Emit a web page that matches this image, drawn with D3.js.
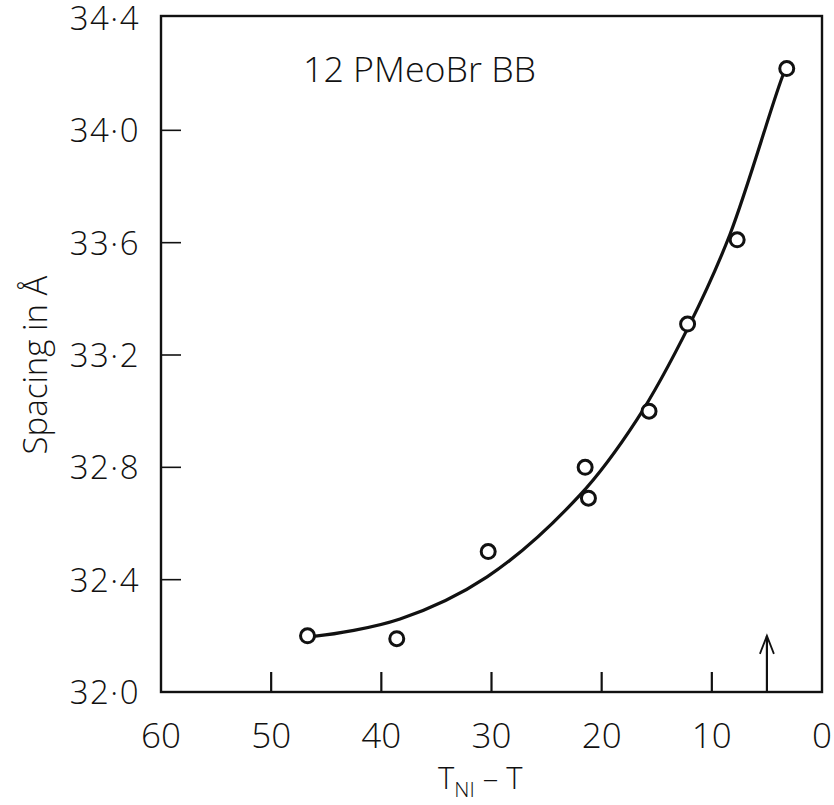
<!doctype html>
<html lang="en">
<head>
<meta charset="utf-8">
<title>12PMeoBrBB spacing</title>
<script src="https://d3js.org/d3.v7.min.js"></script>
<style>
    html, body { margin: 0; padding: 0; background: #fff; }
    svg text { font-family: "Open Sans", "DejaVu Sans", sans-serif; font-weight: 300; fill: #111; }
</style>
</head>
<body>
<div id="output"></div>
<script>
    // measured points (T_NI - T, spacing in angstrom)
    var tDiff   = [46.7, 38.6, 30.3, 21.5, 21.2, 15.7, 12.2, 7.7, 3.2];
    var spacing = [32.20, 32.19, 32.50, 32.80, 32.69, 33.00, 33.31, 33.61, 34.22];

    // hand drawn smooth curve
    var curveT = [46.7, 45.8, 38.3, 30.4, 22.0, 16.8, 12.0, 8.35, 3.5, 3.2];
    var curveS = [32.20, 32.20, 32.26, 32.41, 32.70, 32.97, 33.31, 33.63, 34.20, 34.22];

    var xTicks = [60, 50, 40, 30, 20, 10, 0];
    var yTicks = [32.0, 32.4, 32.8, 33.2, 33.6, 34.0, 34.4];
    var arrowAt = 5, arrowTop = 32.2;

    var W = 834, H = 805;
    var svg = d3.select("#output").append("svg")
        .attr("width", W)
        .attr("height", H);

    var x = d3.scaleLinear().domain([60, 0]).range([161, 822]);
    var y = d3.scaleLinear().domain([32.0, 34.4]).range([692, 18]);

    var fmt = function (d) { return d3.format(".1f")(d).replace(".", "\u00b7"); };

    // frame
    svg.append("rect")
        .attr("x", x(60)).attr("y", 16)
        .attr("width", x(0) - x(60))
        .attr("height", y(32) - 16)
        .attr("fill", "none")
        .attr("stroke", "#111")
        .attr("stroke-width", 2.4);

    // inner ticks
    svg.selectAll(".xt")
        .data(xTicks.slice(1, -1))
        .enter().append("line")
        .attr("x1", function (d) { return x(d); })
        .attr("x2", function (d) { return x(d); })
        .attr("y1", y(32)).attr("y2", y(32) - 20)
        .attr("stroke", "#111").attr("stroke-width", 2.2);

    svg.selectAll(".yt")
        .data(yTicks.slice(1, -1))
        .enter().append("line")
        .attr("x1", x(60)).attr("x2", x(60) + 20)
        .attr("y1", function (d) { return y(d); })
        .attr("y2", function (d) { return y(d); })
        .attr("stroke", "#111").attr("stroke-width", 1.6);

    // tick labels
    svg.selectAll(".xl")
        .data(xTicks)
        .enter().append("text")
        .attr("x", function (d) { return x(d); })
        .attr("y", 748)
        .attr("text-anchor", "middle")
        .attr("font-size", 35)
        .text(function (d) { return d; });

    svg.selectAll(".yl")
        .data(yTicks)
        .enter().append("text")
        .attr("x", 140)
        .attr("y", function (d) { return y(d) + 12; })
        .attr("text-anchor", "end")
        .attr("font-size", 33)
        .attr("letter-spacing", 1.5)
        .text(fmt);

    // axis titles
    var xt = svg.append("text")
        .attr("x", 438).attr("y", 789)
        .attr("font-size", 31);
    xt.append("tspan").text("T");
    xt.append("tspan").attr("dy", 8).attr("font-size", 21).text("NI");
    xt.append("tspan").attr("dy", -8).text(" \u2013 T");

    svg.append("text")
        .attr("transform", "translate(47,365) rotate(-90)")
        .attr("text-anchor", "middle")
        .attr("font-size", 33)
        .text("Spacing in \u00c5");

    svg.append("text")
        .attr("x", 303).attr("y", 82)
        .attr("font-size", 34)
        .attr("textLength", 233)
        .attr("lengthAdjust", "spacingAndGlyphs")
        .text("12 PMeoBr BB");

    // fitted curve
    var line = d3.line()
        .x(function (d) { return x(d[0]); })
        .y(function (d) { return y(d[1]); })
        .curve(d3.curveCatmullRom);

    svg.append("path")
        .datum(d3.zip(curveT, curveS))
        .attr("d", line)
        .attr("fill", "none")
        .attr("stroke", "#111")
        .attr("stroke-width", 3.2);

    // data points
    svg.selectAll(".pt")
        .data(d3.zip(tDiff, spacing))
        .enter().append("circle")
        .attr("cx", function (d) { return x(d[0]); })
        .attr("cy", function (d) { return y(d[1]); })
        .attr("r", 7)
        .attr("fill", "#fff")
        .attr("stroke", "#111")
        .attr("stroke-width", 3);

    // transition marker arrow
    var ax = x(arrowAt), ay = y(arrowTop);
    svg.append("line")
        .attr("x1", ax).attr("x2", ax)
        .attr("y1", y(32)).attr("y2", ay)
        .attr("stroke", "#111").attr("stroke-width", 2.2);
    svg.append("path")
        .attr("d", "M" + (ax - 7) + "," + (ay + 18) + "L" + ax + "," + ay + "L" + (ax + 7) + "," + (ay + 18))
        .attr("fill", "none")
        .attr("stroke", "#111").attr("stroke-width", 1.8);
</script>
</body>
</html>
